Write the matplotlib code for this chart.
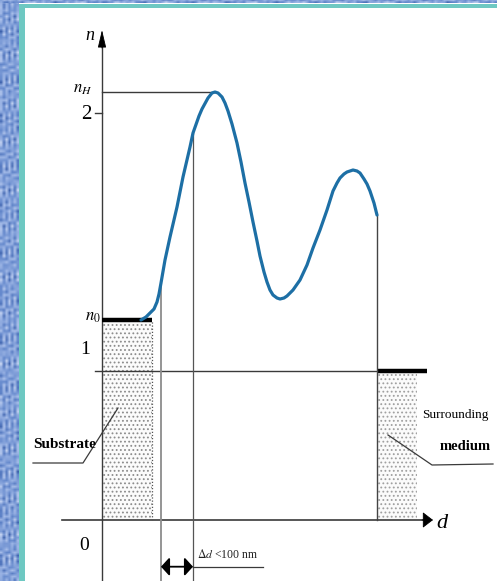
import numpy as np
import matplotlib
matplotlib.use("Agg")
import matplotlib.pyplot as plt
from matplotlib.colors import LinearSegmentedColormap
from matplotlib.patches import Rectangle

# Schematic units: d along the film depth, n the refractive-index level
curve_d = [0.39, 0.44, 0.48, 0.52, 0.55, 0.57, 0.59, 0.63, 0.68, 0.75, 0.81,
           0.88, 0.91, 0.97, 1.00, 1.06, 1.10, 1.13, 1.16, 1.20, 1.23, 1.26,
           1.30, 1.35, 1.39, 1.43, 1.47, 1.51, 1.55, 1.58, 1.62, 1.65, 1.68,
           1.71, 1.75, 1.78, 1.82, 1.85, 1.91, 1.98, 2.05, 2.11, 2.18, 2.25,
           2.31, 2.35, 2.38, 2.42, 2.45, 2.48, 2.51, 2.55, 2.58, 2.62, 2.65,
           2.68, 2.72, 2.75]
curve_n = [2.00, 2.03, 2.07, 2.11, 2.18, 2.26, 2.37, 2.60, 2.83, 3.13, 3.43,
           3.73, 3.87, 4.04, 4.11, 4.22, 4.27, 4.28, 4.27, 4.23, 4.17, 4.09,
           3.96, 3.77, 3.58, 3.37, 3.18, 2.98, 2.79, 2.64, 2.48, 2.38, 2.30,
           2.25, 2.22, 2.21, 2.22, 2.24, 2.30, 2.40, 2.55, 2.72, 2.90, 3.10,
           3.29, 3.37, 3.42, 3.46, 3.48, 3.49, 3.50, 3.49, 3.47, 3.41, 3.36,
           3.29, 3.17, 3.05]

n_substrate = 2.00      # n0 level
n_medium = 1.49         # level "1"
n_tick_two = 4.07       # level "2"
n_high = 4.28           # nH level
substrate_end = 0.50
medium_start = 2.75
medium_end = 3.15
medium_line_end = 3.25
peak_idx = 17           # sample at the nH maximum
delta_start_idx = 6     # sample where the transition layer begins
delta_end_idx = 12      # sample where it ends
tick_labels = ["0", "1", "2"]

plt.rcParams["hatch.linewidth"] = 0.8

fig = plt.figure(figsize=(4.97, 5.81), dpi=100)
fig.patch.set_facecolor("white")

# decorative slide frame
frame = fig.add_axes([0, 0, 1, 1])
frame.set_xlim(0, 497)
frame.set_ylim(581, 0)
frame.axis("off")
blue_map = LinearSegmentedColormap.from_list(
    "frame", ["#3a5ea9", "#6488cc", "#9fb7e6", "#cbd8f3"])
ii, jj = np.mgrid[0:194, 0:7].astype(float)
tex = (0.5 + 0.22 * np.sin(ii * 1.7 + jj * 2.3) * np.cos(jj * 1.1 - ii * 0.6)
       + 0.18 * np.sin(ii * 0.43 + jj * 3.1) + 0.1 * np.cos(ii * 2.9 - jj))
frame.imshow(tex, cmap=blue_map, extent=(0, 19, 581, 0), aspect="auto",
             interpolation="bilinear", vmin=0.05, vmax=0.95)
ti, tj = np.mgrid[0:2, 0:166].astype(float)
tex2 = (0.5 + 0.22 * np.sin(tj * 1.7 + ti * 2.3) * np.cos(ti * 1.1 - tj * 0.6)
        + 0.18 * np.sin(tj * 0.43 + ti * 3.1))
frame.imshow(tex2, cmap=blue_map, extent=(0, 497, 3.5, 0), aspect="auto",
             interpolation="bilinear", vmin=0.05, vmax=0.95)
frame.add_patch(Rectangle((19, 3.5), 6, 578, color="#6ec8c2", lw=0))
frame.add_patch(Rectangle((19, 3.5), 478, 4.5, color="#6ec8c2", lw=0))

ax = fig.add_axes([0, 0, 1, 1])
ax.patch.set_alpha(0)
ax.set_xlim(-1.02, 3.95)
ax.set_ylim(-0.61, 5.20)
ax.axis("off")

serif = ["Liberation Serif", "DejaVu Serif"]
axis_col = "#3a3a3a"

# coordinate axes with arrow heads
ax.plot([0, 0], [-0.61, 4.80], color=axis_col, lw=1.0)
ax.annotate("", xy=(0, 4.90), xytext=(0, 4.72),
            arrowprops=dict(arrowstyle="-|>,head_width=0.26,head_length=1.1",
                            color="black", lw=0.6, shrinkA=0, shrinkB=0))
ax.plot([-0.40, 3.25], [0, 0], color=axis_col, lw=1.2)
ax.annotate("", xy=(3.31, 0), xytext=(3.20, 0),
            arrowprops=dict(arrowstyle="-|>,head_width=0.5,head_length=0.65",
                            color="black", lw=0.6, shrinkA=0, shrinkB=0))

# substrate and surrounding medium blocks (dotted fill)
ax.add_patch(Rectangle((0, 0), substrate_end, n_substrate, facecolor="#fbfbfb",
                       edgecolor="#8c8c8c", hatch="....", lw=0))
ax.plot([substrate_end, substrate_end], [0, n_substrate], color="#555555",
        lw=0.9, ls=(0, (1, 1.5)))
ax.add_patch(Rectangle((medium_start, 0), medium_end - medium_start, n_medium,
                       facecolor="#fbfbfb", edgecolor="#a0a0a0", hatch="....",
                       lw=0))

# level lines
ax.plot([-0.07, medium_start], [n_medium, n_medium], color=axis_col, lw=1.0)
ax.plot([0, curve_d[peak_idx]], [n_high, n_high], color=axis_col, lw=1.0)
ax.plot([-0.07, 0], [n_tick_two, n_tick_two], color=axis_col, lw=1.0)
ax.plot([0, substrate_end], [n_substrate, n_substrate], color="black", lw=3.2,
        solid_capstyle="butt")
ax.plot([medium_start, medium_line_end], [n_medium, n_medium], color="black",
        lw=3.2, solid_capstyle="butt")

# vertical guides below the profile
ax.plot([curve_d[delta_start_idx]] * 2, [-0.61, curve_n[delta_start_idx]],
        color="#8c8c8c", lw=1.3)
ax.plot([curve_d[delta_end_idx]] * 2, [-0.61, curve_n[delta_end_idx]],
        color="#555555", lw=0.9)
ax.plot([curve_d[-1]] * 2, [0, curve_n[-1]], color="#444444", lw=1.0)

# refractive-index profile
ax.plot(curve_d, curve_n, color="#1d6fa5", lw=2.3, solid_capstyle="round",
        solid_joinstyle="round")

# transition thickness marker
y_arrow = -0.467
ax.annotate("", xy=(curve_d[delta_start_idx], y_arrow),
            xytext=(curve_d[delta_end_idx], y_arrow),
            arrowprops=dict(arrowstyle="<|-|>,head_width=0.55,head_length=0.5",
                            color="black", lw=1.3, shrinkA=0, shrinkB=0))
ax.plot([curve_d[delta_end_idx], 1.61], [y_arrow, y_arrow], color=axis_col,
        lw=0.9)
ax.text(0.95, -0.35, r"$\Delta d$ <100 nm", fontsize=8.5, family=serif,
        ha="left", va="center", color="#222222", math_fontfamily="stix")

# axis labels and levels
ax.text(-0.12, 4.84, "n", fontsize=13, style="italic", family=serif,
        ha="center", va="center")
ax.text(-0.19, 4.32, r"$n_H$", fontsize=12, ha="center", va="center",
        math_fontfamily="stix")
ax.text(-0.16, 4.06, tick_labels[2], fontsize=15, family=serif,
        ha="center", va="center")
ax.text(-0.09, 2.04, r"$n_0$", fontsize=12, ha="center", va="center",
        math_fontfamily="stix")
ax.text(-0.17, 1.71, tick_labels[1], fontsize=14, family=serif,
        ha="center", va="center")
ax.text(-0.175, -0.25, tick_labels[0], fontsize=14, family=serif,
        ha="center", va="center")
ax.text(3.40, -0.03, "d", fontsize=16, style="italic", family=serif,
        ha="center", va="center")

# block annotations
ax.text(-0.69, 0.76, "Substrate", fontsize=11, fontweight="bold",
        family=serif, ha="left", va="center")
ax.plot([-0.69, -0.19, 0.16], [0.57, 0.57, 1.12], color=axis_col, lw=0.9)
ax.text(3.20, 1.05, "Surrounding", fontsize=9.5, family=serif, ha="left",
        va="center")
ax.text(3.38, 0.73, "medium", fontsize=10.5, fontweight="bold", family=serif,
        ha="left", va="center")
ax.plot([2.86, 3.30, 3.91], [0.85, 0.55, 0.56], color=axis_col, lw=0.9)

fig.savefig("out.png", dpi=100)
